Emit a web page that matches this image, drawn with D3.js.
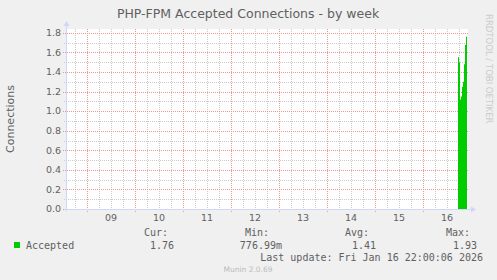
<!DOCTYPE html>
<html>
<head>
<meta charset="utf-8">
<script src="https://cdn.jsdelivr.net/npm/d3@7"></script>
<style>
  body { margin: 0; background: #f0f0f0; }
  svg { display: block; }
  text { font-family: "DejaVu Sans", sans-serif; fill: #606060; }
  .mono { font-family: "DejaVu Sans Mono", monospace; }
</style>
</head>
<body>
<div id="chart"></div>
<script>
// day labels on the x axis (placed at noon of each day)
var dayLabels = ["09", "10", "11", "12", "13", "14", "15", "16"];
var dayDates = ["2026-01-09", "2026-01-10", "2026-01-11", "2026-01-12",
                "2026-01-13", "2026-01-14", "2026-01-15", "2026-01-16"];

// accepted connections per second, 30 minute samples (only the tail has data)
var sampleTimes = ["2026-01-16T18:00", "2026-01-16T18:30",
                   "2026-01-16T19:00", "2026-01-16T19:30", "2026-01-16T20:00",
                   "2026-01-16T20:30", "2026-01-16T21:00", "2026-01-16T21:30",
                   "2026-01-16T22:00"];
var accepted = [1.55, 1.50, 1.12, 1.15, 1.25, 1.30, 1.48, 1.68, 1.76];

// legend
var legendHeaders = ["Cur:", "Min:", "Avg:", "Max:"];
var legendValues = ["1.76", "776.99m", "1.41", "1.93"];
var lastUpdate = "Last update: Fri Jan 16 22:00:06 2026";

var W = 497, H = 280;
var margin = { top: 29, right: 29, bottom: 71, left: 66 };
var plotW = W - margin.left - margin.right;
var plotH = H - margin.top - margin.bottom;

var parseT = d3.utcParse("%Y-%m-%dT%H:%M");
var parseD = d3.utcParse("%Y-%m-%d");

var tStart = parseT("2026-01-08T13:30"), tEnd = parseT("2026-01-16T22:30");

var x = d3.scaleUtc().domain([tStart, tEnd]).range([margin.left, margin.left + plotW]);
var y = d3.scaleLinear().domain([0, 1.84]).range([margin.top + plotH, margin.top]);

var svg = d3.select("#chart").append("svg")
  .attr("width", W).attr("height", H);

svg.append("rect").attr("width", W).attr("height", H).attr("fill", "#f0f0f0");

// plot background
svg.append("rect")
  .attr("x", margin.left).attr("y", margin.top)
  .attr("width", plotW).attr("height", plotH)
  .attr("fill", "#fff");

var gGrid = svg.append("g");
var minorCol = "#cccccc", majorCol = "#eb9595";

// minor vertical grid every 6 hours
d3.utcHour.every(6).range(tStart, tEnd).forEach(function(t) {
  if (t.getUTCHours() === 0) return;
  var px = Math.round(x(t)) + 0.5;
  gGrid.append("line")
    .attr("x1", px).attr("x2", px)
    .attr("y1", margin.top).attr("y2", margin.top + plotH + 2)
    .attr("stroke", minorCol).attr("stroke-dasharray", "1,1");
});

// minor horizontal grid every 0.1
d3.range(1, 19, 2).forEach(function(i) {
  var py = Math.round(y(i / 10)) + 0.5;
  gGrid.append("line")
    .attr("x1", margin.left - 2).attr("x2", margin.left + plotW)
    .attr("y1", py).attr("y2", py)
    .attr("stroke", minorCol).attr("stroke-dasharray", "1,1");
});

// major vertical grid at midnight
d3.utcDay.range(tStart, tEnd).forEach(function(t) {
  var px = Math.round(x(t)) + 0.5;
  gGrid.append("line")
    .attr("x1", px).attr("x2", px)
    .attr("y1", margin.top).attr("y2", margin.top + plotH + 3)
    .attr("stroke", majorCol)
    .attr("stroke-dasharray", "1,1");
});

// major horizontal grid every 0.2
var yTicks = y.ticks(10);
yTicks.forEach(function(v) {
  var py = Math.round(y(v)) + 0.5;
  gGrid.append("line")
    .attr("x1", margin.left - 3).attr("x2", margin.left + plotW)
    .attr("y1", py).attr("y2", py)
    .attr("stroke", majorCol)
    .attr("stroke-dasharray", "1,1");
});

// the data area (each sample covers the 30 minutes before it)
var samples = sampleTimes.map(function(s, i) {
  return { t: parseT(s), v: accepted[i] };
});
var area = d3.area()
  .x(function(d) { return x(d.t); })
  .y0(y(0))
  .y1(function(d) { return y(d.v); })
  .curve(d3.curveStepBefore);
svg.append("path")
  .datum([{ t: d3.utcMinute.offset(samples[0].t, -30), v: samples[0].v }].concat(samples))
  .attr("d", area)
  .attr("fill", "#00cc00");

// axes with arrows (munin axis colour)
var axisCol = "#cfd6f8";
var gAxis = svg.append("g").attr("shape-rendering", "crispEdges");
gAxis.append("line")
  .attr("x1", margin.left + 0.5).attr("x2", margin.left + 0.5)
  .attr("y1", margin.top + plotH + 2).attr("y2", margin.top - 4)
  .attr("stroke", axisCol);
gAxis.append("line")
  .attr("x1", margin.left - 2).attr("x2", margin.left + plotW + 4)
  .attr("y1", margin.top + plotH + 0.5).attr("y2", margin.top + plotH + 0.5)
  .attr("stroke", axisCol);
svg.append("path")
  .attr("d", "M" + (margin.left - 2.5) + "," + (margin.top - 3) +
             " L" + (margin.left + 0.5) + "," + (margin.top - 8) +
             " L" + (margin.left + 3.5) + "," + (margin.top - 3) + " Z")
  .attr("fill", axisCol);
svg.append("path")
  .attr("d", "M" + (margin.left + plotW + 3) + "," + (margin.top + plotH - 2.5) +
             " L" + (margin.left + plotW + 8) + "," + (margin.top + plotH + 0.5) +
             " L" + (margin.left + plotW + 3) + "," + (margin.top + plotH + 3.5) + " Z")
  .attr("fill", axisCol);

// y tick labels
svg.append("g").selectAll("text")
  .data(yTicks).join("text")
  .attr("x", margin.left - 5)
  .attr("y", function(d) { return y(d); })
  .attr("dy", "0.35em")
  .attr("text-anchor", "end")
  .attr("font-size", "9.5px")
  .text(function(d) { return d3.format(".1f")(d); });

// x tick labels at noon
svg.append("g").selectAll("text")
  .data(dayLabels).join("text")
  .attr("x", function(d, i) { return x(d3.utcHour.offset(parseD(dayDates[i]), 12)); })
  .attr("y", margin.top + plotH + 12)
  .attr("text-anchor", "middle")
  .attr("font-size", "9.5px")
  .text(function(d) { return d; });

// title
svg.append("text")
  .attr("x", 248).attr("y", 18)
  .attr("text-anchor", "middle")
  .attr("font-size", "12.5px")
  .text("PHP-FPM Accepted Connections - by week");

// y axis title
svg.append("text")
  .attr("transform", "translate(14," + (margin.top + plotH / 2) + ") rotate(-90)")
  .attr("text-anchor", "middle")
  .attr("font-size", "11px")
  .text("Connections");

// watermark on the right
svg.append("text")
  .attr("transform", "translate(486,14) rotate(90)")
  .attr("font-size", "8.5px")
  .style("fill", "#cccccc")
  .text("RRDTOOL / TOBI OETIKER");

// legend
var gLeg = svg.append("g");
gLeg.append("rect")
  .attr("x", 14).attr("y", 242).attr("width", 6).attr("height", 6)
  .attr("fill", "#00cc00");
gLeg.append("text").attr("class", "mono")
  .attr("x", 26).attr("y", 248.5)
  .attr("font-size", "10px")
  .text("Accepted");

var headRight = [168, 269, 369, 470];
var valRight = [174, 282, 376, 477];
gLeg.selectAll("text.head")
  .data(legendHeaders).join("text")
  .attr("class", "head mono")
  .attr("x", function(d, i) { return headRight[i]; })
  .attr("y", 236)
  .attr("text-anchor", "end")
  .attr("font-size", "10px")
  .text(function(d) { return d; });
gLeg.selectAll("text.val")
  .data(legendValues).join("text")
  .attr("class", "val mono")
  .attr("x", function(d, i) { return valRight[i]; })
  .attr("y", 248.5)
  .attr("text-anchor", "end")
  .attr("font-size", "10px")
  .text(function(d) { return d; });

gLeg.append("text").attr("class", "mono")
  .attr("x", 483).attr("y", 260.5)
  .attr("text-anchor", "end")
  .attr("font-size", "10px")
  .text(lastUpdate);

svg.append("text")
  .attr("x", 248).attr("y", 272)
  .attr("text-anchor", "middle")
  .attr("font-size", "7.5px")
  .style("fill", "#bbb")
  .text("Munin 2.0.69");
</script>
</body>
</html>
